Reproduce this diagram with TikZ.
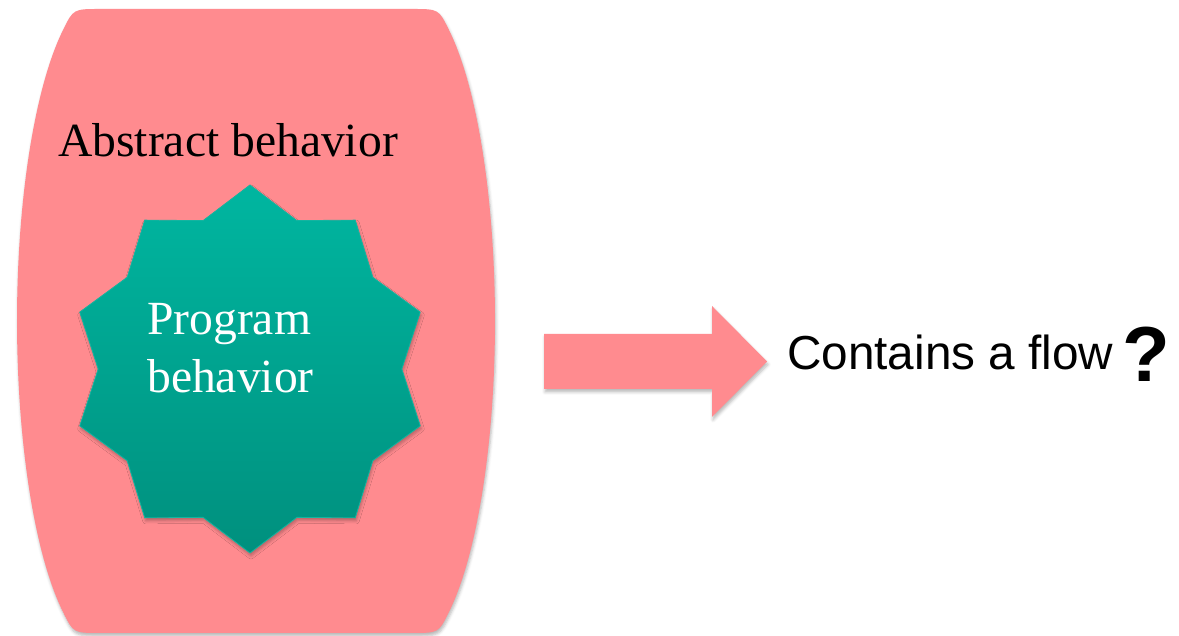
\documentclass[tikz,border=0pt]{standalone}
\usepackage{fontspec}
\setmainfont{Liberation Serif}
\newfontfamily\arialfont{Liberation Sans}
\usetikzlibrary{calc,shadows.blur}

\definecolor{slabpink}{HTML}{FF8B8F}
\definecolor{starTop}{HTML}{00B6A0}
\definecolor{starBot}{HTML}{00907E}
\definecolor{starEdge}{HTML}{14B4A0}

\tikzset{
  softshadow/.style={blur shadow={shadow xshift=1pt, shadow yshift=-3pt,
      shadow blur radius=3pt, shadow opacity=28}},
  serifbig/.style={font=\fontsize{47.6}{58}\selectfont, inner sep=0pt},
  sansbig/.style={font=\arialfont\fontsize{47.7}{56}\selectfont, inner sep=0pt},
}

\begin{document}
\begin{tikzpicture}[x=1pt, y=1pt]
\useasboundingbox (0,0) rectangle (1179,636);

% barrel-shaped outer region (straight top and bottom, elliptic sides)
\path[fill=slabpink, softshadow]
  (100,627) -- (412,627)
  .. controls (438.6,627) .. (448.8,606.4)
  arc[start angle=62, end angle=-62, x radius=87, y radius=330]
  .. controls (438.6,3) .. (412,3)
  -- (100,3)
  .. controls (73.4,3) .. (63.2,23.6)
  arc[start angle=242, end angle=118, x radius=87, y radius=330]
  .. controls (73.4,627) .. (100,627) -- cycle;

\node[serifbig, anchor=base] (abs) at (228,479) {Abstract behavior};

% ten-pointed star
\path[top color=starTop, bottom color=starBot, draw=starEdge, line width=0.8pt,
      softshadow, line join=miter]
  (250,267) ++(90:179 and 184)
  \foreach \i in {1,...,19} {
    -- ($(250,267)+({90+18*\i}:{(170+14*cos(180*\i))*0.973} and {170+14*cos(180*\i)})$)
  } -- cycle;

\node[serifbig, text=white, align=left, anchor=base west] (prog) at (147,243)
  {Program\\behavior};

% block arrow
\path[fill=slabpink, softshadow]
  (544,302) -- (712,302) -- (712,330) -- (767,274.5) -- (712,219)
  -- (712,247) -- (544,247) -- cycle;

\node[sansbig, anchor=base west] (flow) at (787,266) {Contains a flow};
\node[font=\arialfont\bfseries\fontsize{78}{80}\selectfont, inner sep=0pt,
      anchor=base west] (qm) at (1122,254) {?};
\end{tikzpicture}
\end{document}
